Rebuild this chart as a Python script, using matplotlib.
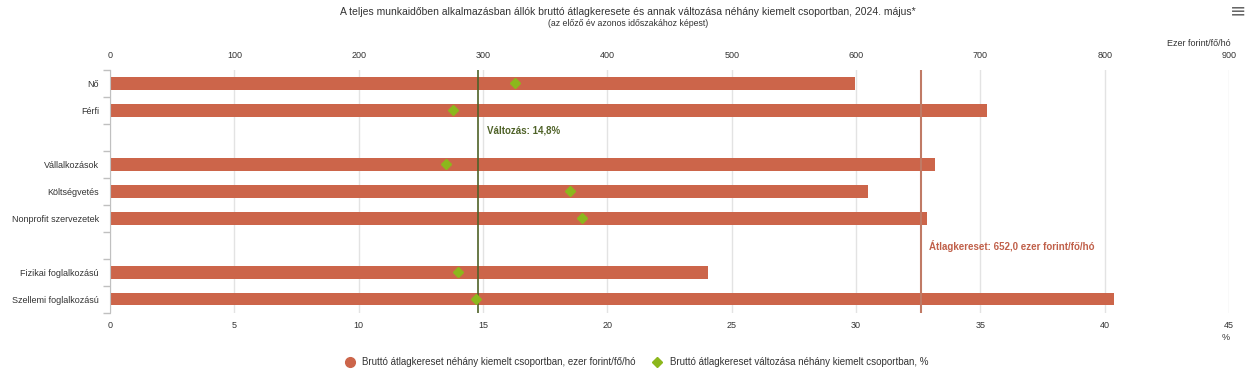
import numpy as np
import matplotlib.pyplot as plt
from matplotlib.lines import Line2D

plt.rcParams['font.family'] = ['Liberation Sans', 'DejaVu Sans']

# --- data ---
categories = ["Nő", "Férfi", "", "Vállalkozások", "Költségvetés",
              "Nonprofit szervezetek", "", "Fizikai foglalkozású", "Szellemi foglalkozású"]
kereset = [599.0, 705.0, np.nan, 663.5, 610.0, 657.0, np.nan, 481.0, 807.5]   # ezer Ft/fő/hó
valtozas = [16.3, 13.8, np.nan, 13.5, 18.5, 19.0, np.nan, 14.0, 14.7]        # %
atlag_kereset = 652.0
atlag_valtozas = 14.8
ft_ticks = list(range(0, 1000, 100))
pct_ticks = list(range(0, 50, 5))

bar_color = "#cc654a"
diamond_color = "#8cb71c"
green_line = "#4f6228"
avg_line = "#c07a65"
grey = "#c0c0c0"
text_color = "#333333"

fig = plt.figure(figsize=(12.56, 3.83), dpi=100)
ax = fig.add_axes([110 / 1256, 1 - 312.5 / 383, (1229 - 110) / 1256, (312.5 - 70) / 383])

y = np.arange(len(categories))

# bars on the forint axis (top)
ax.barh(y, kereset, height=0.48, color=bar_color, zorder=2)
ax.set_xlim(0, 900)
ax.set_ylim(len(categories) - 0.5, -0.5)
ax.grid(axis='x', color="#e3e3e3", linewidth=1, zorder=0)
ax.axvline(atlag_kereset, color=avg_line, linewidth=1.5, zorder=3)
ax.text(atlag_kereset + 7, 7.0 - 0.95, "Átlagkereset: 652,0 ezer forint/fő/hó",
        color="#c0604a", fontsize=7, fontweight='bold', va='center', ha='left')

ax.set_yticks(y)
ax.set_yticklabels(categories, fontsize=6.5, color=text_color)
ax.set_yticks(np.arange(-0.5, len(categories) + 0.5, 1), minor=True)
ax.tick_params(axis='y', which='major', length=0, pad=8)
ax.tick_params(axis='y', which='minor', length=5, color=grey, width=1)

for side in ['top', 'right', 'bottom']:
    ax.spines[side].set_visible(False)
ax.spines['left'].set_color(grey)

# diamonds on the percent axis (bottom)
ax2 = ax.twiny()
ax2.set_xlim(0, 45)
ax2.xaxis.tick_bottom()
ax2.set_xticks(pct_ticks)
ax2.set_xticklabels([str(t) for t in pct_ticks], fontsize=6.5, color=text_color)
ax2.tick_params(axis='x', length=0, pad=6)
for side in ax2.spines:
    ax2.spines[side].set_visible(False)
ax2.axvline(atlag_valtozas, color=green_line, linewidth=1.2, zorder=3)
ax2.plot(valtozas, y, linestyle='none', marker='D', markersize=5.5,
         color=diamond_color, zorder=4)
ax2.text(atlag_valtozas + 0.35, 2 - 0.25, "Változás: 14,8%", color=green_line,
         fontsize=7, fontweight='bold', va='center', ha='left')

# forint ticks on top (after twiny, which resets them)
ax.xaxis.tick_top()
ax.set_xticks(ft_ticks)
ax.set_xticklabels([str(t) for t in ft_ticks], fontsize=6.5, color=text_color)
ax.tick_params(axis='x', length=0, pad=7)

# titles and axis units
fig.text(0.5, 1 - 12 / 383, "A teljes munkaidőben alkalmazásban állók bruttó átlagkeresete és annak változása néhány kiemelt csoportban, 2024. május*",
         ha='center', va='center', fontsize=7.5, color=text_color)
fig.text(0.5, 1 - 23 / 383, "(az előző év azonos időszakához képest)",
         ha='center', va='center', fontsize=6.3, color=text_color)
fig.text(1231 / 1256, 1 - 44 / 383, "Ezer forint/fő/hó", ha='right', va='center',
         fontsize=6.5, color=text_color)
fig.text(1226 / 1256, 1 - 338 / 383, "%", ha='center', va='center',
         fontsize=6.5, color=text_color)
fig.text(1238 / 1256, 1 - 11 / 383, "≡", ha='center', va='center',
         fontsize=14, color="#666666", family='DejaVu Sans')

# legend
handles = [
    Line2D([], [], linestyle='none', marker='o', markersize=7, color=bar_color,
           label="Bruttó átlagkereset néhány kiemelt csoportban, ezer forint/fő/hó"),
    Line2D([], [], linestyle='none', marker='D', markersize=5.5, color=diamond_color,
           label="Bruttó átlagkereset változása néhány kiemelt csoportban, %"),
]
fig.legend(handles=handles, loc='center', bbox_to_anchor=(0.5 + 6 / 1256, 1 - 362 / 383),
           ncol=2, frameon=False, fontsize=7, handletextpad=0.3, columnspacing=1.2,
           labelcolor=text_color)

fig.savefig("out.png", dpi=100)
